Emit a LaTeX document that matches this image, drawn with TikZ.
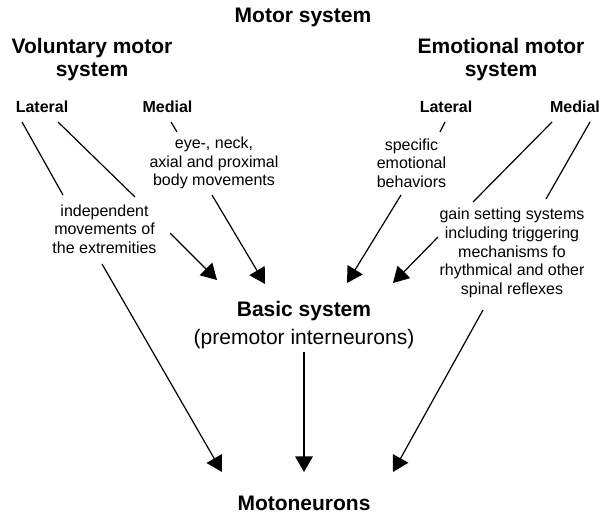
\documentclass[tikz,border=0pt]{standalone}
\usepackage{fontspec}
\setmainfont{Liberation Sans}
\usetikzlibrary{arrows.meta}

\begin{document}
\begin{tikzpicture}[x=0.5pt, y=-0.5pt,
    head/.style={font=\bfseries\fontsize{10.5}{11.5}\selectfont, align=center, inner sep=0},
    side/.style={font=\bfseries\fontsize{8}{9.4}\selectfont, inner sep=0},
    txt/.style={font=\fontsize{8}{9.35}\selectfont, align=center, inner sep=0},
    ln/.style={line width=0.6pt},
    arr/.style={line width=0.6pt, -{Triangle[length=7.8pt, width=8.8pt]}}]
    \useasboundingbox (0,0) rectangle (604,514);

    \node[head] (motor) at (303,17) {Motor system};
    \node[head] (vol) at (92,60) {Voluntary motor\\system};
    \node[head] (emo) at (501,60) {Emotional motor\\system};

    \node[side] (latL) at (42,107) {Lateral};
    \node[side] (medL) at (167.5,107) {Medial};
    \node[side] (latR) at (446,107) {Lateral};
    \node[side] (medR) at (575,107) {Medial};

    \node[txt] (eye) at (214,163) {eye-, neck,\\axial and proximal\\body movements};
    \node[txt] (indep) at (104.5,229) {independent\\movements of\\the extremities};
    \node[txt] (spec) at (411.5,163) {specific\\emotional\\behaviors};
    \node[txt] (gain) at (512,253) {gain setting systems\\including triggering\\mechanisms fo\\rhythmical and other\\spinal reflexes};

    \node[txt, font=\fontsize{10.5}{13.75}\selectfont] (basic) at (304,325) {{\bfseries Basic system}\\(premotor interneurons)};
    \node[head] (moto) at (304,503) {Motoneurons};

    \draw[ln] ([shift={(-20,15)}]latL.center) -- ([shift={(-41.5,-34)}]indep.center);
    \draw[ln] ([shift={(16,15)}]latL.center) -- ([shift={(30.5,-32)}]indep.center);
    \draw[ln] ([shift={(3.5,15)}]medL.center) -- ([shift={(-37,-31)}]eye.center);
    \draw[ln] ([shift={(-1,15)}]latR.center) -- ([shift={(28.5,-31)}]spec.center);
    \draw[ln] ([shift={(-23,15)}]medR.center) -- ([shift={(-39,-51)}]gain.center);
    \draw[ln] ([shift={(15,15)}]medR.center) -- ([shift={(34,-54)}]gain.center);

    \draw[arr] ([shift={(65.5,4)}]indep.center) -- ([shift={(-87,-45)}]basic.center);
    \draw[arr] ([shift={(-2,32)}]eye.center) -- ([shift={(-39,-41)}]basic.center);
    \draw[arr] ([shift={(-10.5,32)}]spec.center) -- ([shift={(43,-42)}]basic.center);
    \draw[arr] ([shift={(-74,-16)}]gain.center) -- ([shift={(89,-42)}]basic.center);

    \draw[arr] ([shift={(-2.5,35)}]indep.center) -- ([shift={(-82,-31)}]moto.center);
    \draw[arr] ([shift={(0,27)}]basic.center) -- ([shift={(0,-31)}]moto.center);
    \draw[arr] ([shift={(-29,57)}]gain.center) -- ([shift={(89,-31)}]moto.center);
\end{tikzpicture}
\end{document}
